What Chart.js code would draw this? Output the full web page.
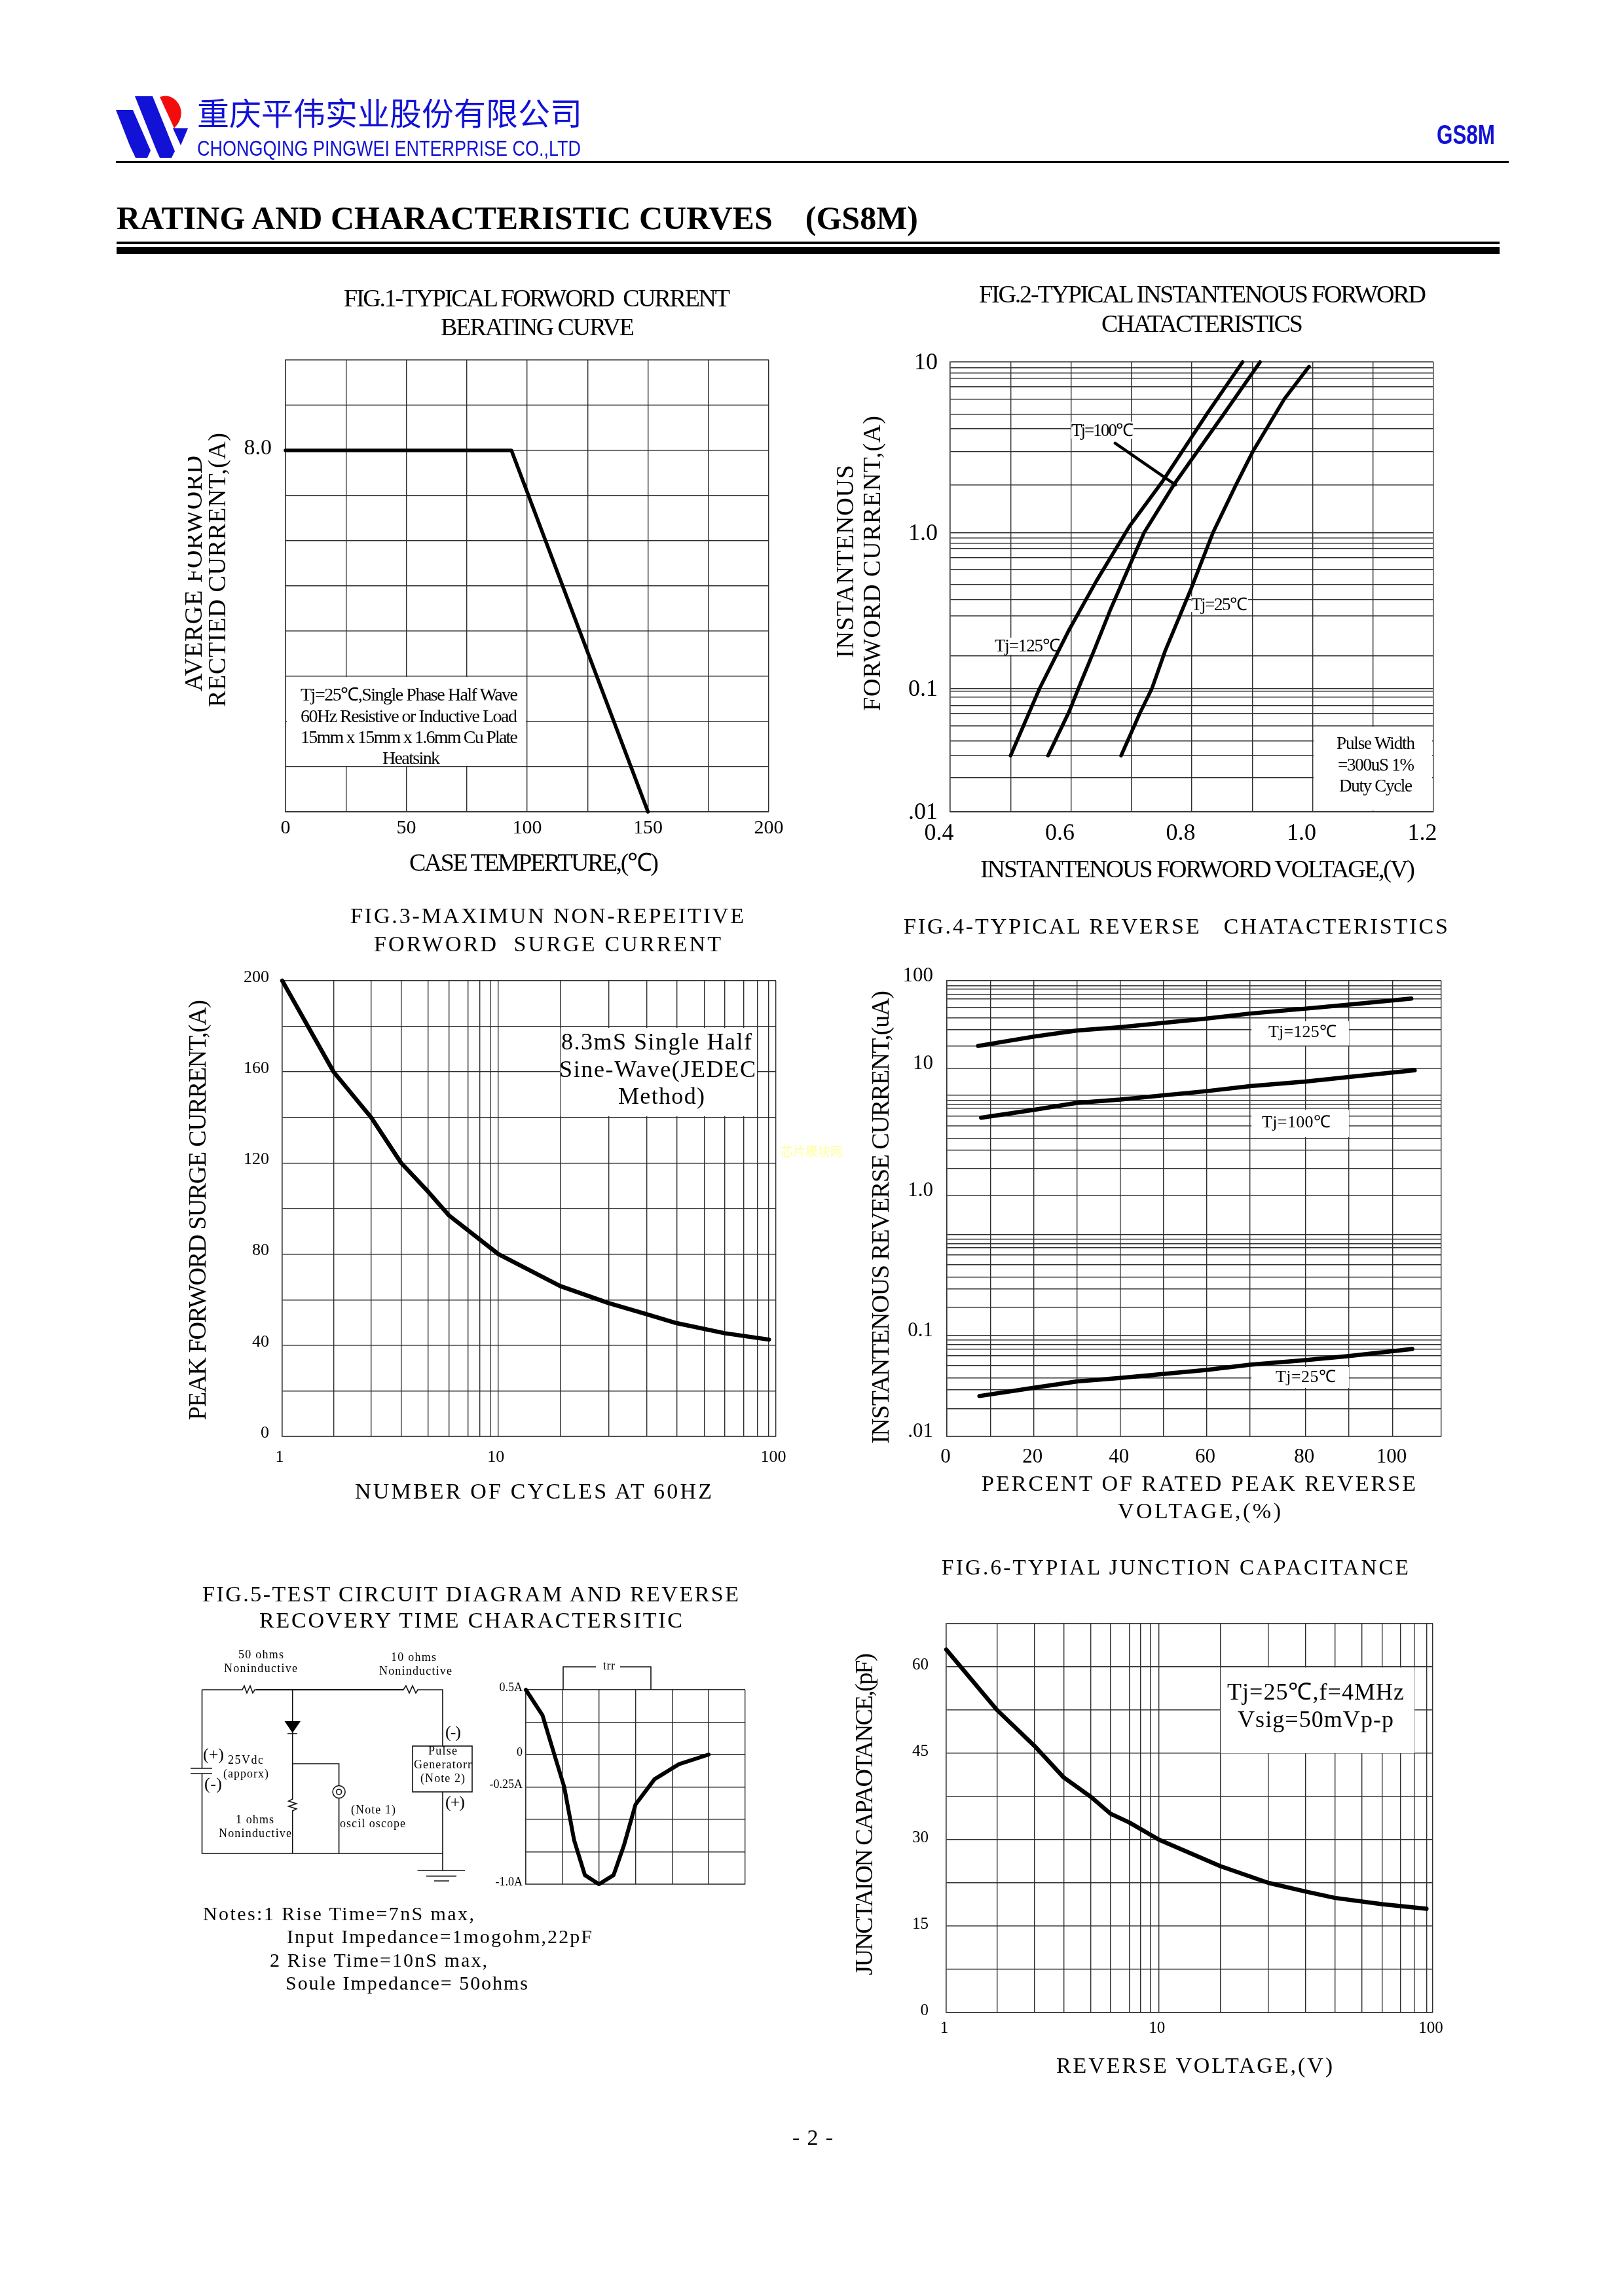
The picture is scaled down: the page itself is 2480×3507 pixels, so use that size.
<!DOCTYPE html>
<html>
<head>
<meta charset="utf-8">
<title>GS8M curves</title>
<script src="https://cdn.jsdelivr.net/npm/chart.js@4/dist/chart.umd.js"></script>
<style>
html, body { margin: 0; padding: 0; background: #fff; }
#page { position: relative; width: 2480px; height: 3507px; overflow: hidden; background: #fff; }
#page canvas { position: absolute; }
#page span { position: absolute; white-space: pre; line-height: 1; color: #000; }
#page .rule { position: absolute; background: #000; }
#art { position: absolute; left: 0; top: 0; }
</style>
</head>
<body>
<div id="page">
<svg id="art" width="2480" height="3507" fill="none" stroke="#111" stroke-width="1.6"></svg>
</div>
<script>
// fig 1
var fig1X = [0, 93.5, 150];
var fig1Y = [8, 8, 0];

// fig 2 (hand drawn log paper, so every grid line has its own read position)
var fig2YStops = [.01, .02, .03, .04, .05, .06, .07, .08, .09, .1, .2, .3, .4, .5, .6, .7, .8, .9, .95, 1, 2, 3, 4, 5, 6, 7, 8, 9, 9.5, 10];
var fig2YPos = [0, .0755, .125, .1578, .1912, .2193, .2369, .2545, .2684, .2742, .3474, .4362, .4721, .506, .5391, .5657, .5852, .5973, .6085, .6206, .7268, .8011, .8521, .8845, .9176, .9445, .9642, .9758, .9875, 1];
var fig2YTicks = [.01, .1, 1, 10];
var fig2YLabels = ['.01', '0.1', '1.0', '10'];
var fig2XTicks = [.4, .6, .8, 1, 1.2];
var fig2XLabels = ['0.4', '0.6', '0.8', '1.0', '1.2'];
var t25X = [.683, .714, .734, .756, .799, .835, .873, .901, .953, .994];
var t25Y = [.03, .06, .1, .21, .47, 1, 2, 3, 6, 9.6];
var t100X = [.562, .597, .617, .638, .666, .687, .721, .77, .853, .913];
var t100Y = [.03, .062, .116, .21, .34, .53, 1, 2, 5, 10];
var t125X = [.5, .548, .597, .642, .697, .752, .825, .884];
var t125Y = [.03, .1, .26, .52, 1.1, 2.1, 5, 10];
var leaderX = [.673, .773];
var leaderY = [3.33, 2];

// fig 3 and 6 share the same printed log paper
var cycleStops = [1, 2, 3, 4, 5, 6, 7, 8, 9, 10, 20, 30, 40, 50, 60, 70, 80, 90, 95, 100];
var fig3XPos = [0, .104, .18, .2409, .2959, .3381, .3762, .3998, .4218, .4379, .563, .661, .738, .7988, .8546, .896, .9341, .9628, .9856, 1];
var fig6XPos = [0, .1044, .1811, .2414, .2977, .3377, .376, .3997, .42, .4372, .5636, .6623, .7382, .7985, .8548, .8956, .9339, .9625, .987, 1];
var logTicks = [1, 10, 100];
var logLabels = ['1', '10', '100'];

var fig3X = [1, 2, 3, 4, 5, 6, 10, 20, 30, 40, 50, 70, 95];
var fig3Y = [200, 160, 140, 120, 107.3, 96.9, 80, 66, 58.5, 53.6, 49.7, 45.3, 42.5];
var fig3YTicks = [0, 40, 80, 120, 160, 200];

// fig 4
var fig4XStops = [0, 10, 20, 30, 40, 50, 60, 70, 80, 90, 100, 110];
var fig4XPos = [0, .0878, .1757, .2635, .3505, .4383, .5253, .6132, .7255, .8133, .902, 1];
var fig4XTicks = [0, 20, 40, 60, 80, 100];
var fig4YStops = [.01, .02, .03, .04, .05, .06, .07, .08, .09, .1, .15, .2, .3, .4, .5, .6, .7, .8, .9, 1, 1.5, 2, 3, 4, 5, 6, 7, 8, 9, 10, 20, 30, 40, 50, 60, 70, 80, 90, 100];
var fig4YPos = [0, .0611, .1018, .1282, .1549, .1771, .1919, .202, .2116, .2211, .2829, .3234, .35, .3763, .3989, .4137, .4233, .433, .4425, .5296, .5875, .6288, .6546, .6815, .7035, .7197, .7294, .738, .7485, .8074, .8569, .8922, .9186, .9417, .9597, .9708, .9813, .9895, 1];
var fig4YTicks = [.01, .1, 1, 10, 100];
var fig4YLabels = ['.01', '0.1', '1.0', '10', '100'];
var r125X = [7.2, 20, 30, 40, 60, 70, 80, 90, 103.8];
var r125Y = [20, 25.3, 29.5, 32, 39.3, 43.8, 48.6, 53, 61];
var r100X = [7.9, 20, 30, 40, 60, 70, 80, 90, 104.5];
var r100Y = [4.79, 5.8, 7.3, 8.1, 9.15, 9.33, 9.5, 9.67, 9.93];
var r25X = [7.5, 20, 30, 40, 60, 70, 80, 90, 104];
var r25Y = [.0263, .0316, .0369, .04, .0463, .051, .0554, .0596, .07];

// fig 5 trace
var traceX = [0, .455, .78, 1.05, 1.32, 1.615, 2, 2.4, 2.69, 3, 3.52, 4.19, 5];
var traceY = [.5, .304, 0, -.25, -.66, -.93, -1, -.93, -.694, -.385, -.19, -.074, 0];
var fig5YTicks = [.5, 0, -.25, -1];
var fig5YLabels = ['0.5A', '0', '-0.25A', '-1.0A'];

// fig 6
var fig6X = [1, 2, 3, 4, 5, 6, 7, 10, 20, 30, 40, 50, 70, 95];
var fig6Y = [63, 52.5, 46.3, 40.8, 37.4, 34.5, 33, 30, 25.4, 22.5, 21, 19.9, 18.8, 18];
var fig6YTicks = [0, 15, 30, 45, 60];

var page = document.getElementById('page');
var GRID = '#2e2e2e';
var SERIF = '"Liberation Serif"';

// scale whose grid lines sit where the paper has them, log or linear in between
class TableScale extends Chart.LinearScale {
    getPixelForValue(value) {
        var stops = this.options.stops, pos = this.options.pos, log = this.options.logBetween;
        var i = 0;
        while (i < stops.length - 2 && value > stops[i + 1]) i++;
        var f = log
            ? Math.log(value / stops[i]) / Math.log(stops[i + 1] / stops[i])
            : (value - stops[i]) / (stops[i + 1] - stops[i]);
        return this.getPixelForDecimal(pos[i] + f * (pos[i + 1] - pos[i]));
    }
}
TableScale.id = 'table';
Chart.register(TableScale);

function labeler(values, labels) {
    return function (value) {
        for (var i = 0; i < values.length; i++) {
            if (Math.abs(values[i] - value) < 1e-9) return labels ? labels[i] : String(values[i]);
        }
        return '';
    };
}

function axis(type, font, padding, callback, extra) {
    var o = {
        type: type,
        border: { display: true, color: GRID, width: 1.4 },
        grid: { color: GRID, lineWidth: 1.4, drawTicks: false },
        ticks: {
            autoSkip: false, maxRotation: 0, minRotation: 0, color: '#000',
            font: { family: SERIF, size: font }, padding: padding, callback: callback
        }
    };
    for (var k in extra) {
        if (k === 'labelOffset') o.ticks.labelOffset = extra[k];
        else if (k === 'stepSize') o.ticks.stepSize = extra[k];
        else o[k] = extra[k];
    }
    if (type === 'table') {
        o.afterBuildTicks = function (s) {
            s.ticks = s.options.stops.map(function (v) { return { value: v }; });
        };
    }
    return o;
}

function line(xs, ys, width) {
    return {
        data: xs.map(function (x, i) { return { x: x, y: ys[i] }; }),
        showLine: true, pointRadius: 0, borderColor: '#000', borderWidth: width,
        borderCapStyle: 'round', borderJoinStyle: 'round', tension: 0, clip: false
    };
}

function makeFig(box, xAxis, yAxis, datasets, blanks) {
    // margins wider than tick padding plus half a label, so autopadding never moves the plot
    var M = { left: 140, right: 70, top: 70, bottom: 70 };
    var canvas = document.createElement('canvas');
    canvas.width = box.right - box.left + M.left + M.right;
    canvas.height = box.bottom - box.top + M.top + M.bottom;
    canvas.style.left = (box.left - M.left) + 'px';
    canvas.style.top = (box.top - M.top) + 'px';
    page.insertBefore(canvas, document.getElementById('art'));
    xAxis.afterFit = function (s) { s.height = M.bottom; };
    yAxis.afterFit = function (s) { s.width = M.left; };
    return new Chart(canvas.getContext('2d'), {
        type: 'scatter',
        data: { datasets: datasets },
        options: {
            responsive: false, animation: false, devicePixelRatio: 1,
            layout: { padding: { top: M.top, right: M.right } },
            plugins: { legend: { display: false }, tooltip: { enabled: false }, title: { display: false } },
            scales: { x: xAxis, y: yAxis }
        },
        plugins: [{
            // note boxes blank the paper but stay under the curves
            id: 'blanks',
            beforeDatasetsDraw: function (chart) {
                var ctx = chart.ctx;
                ctx.save();
                ctx.fillStyle = '#fff';
                (blanks || []).forEach(function (b) {
                    ctx.fillRect(b[0] - box.left + M.left, b[1] - box.top + M.top, b[2] - b[0], b[3] - b[1]);
                });
                ctx.restore();
            }
        }]
    });
}

// fig 1
makeFig({ left: 436, right: 1174, top: 550, bottom: 1240 },
    axis('linear', 30, 7, labeler([0, 50, 100, 150, 200]), { min: 0, max: 200, stepSize: 25 }),
    axis('linear', 34, 21, labeler([8], ['8.0']), { min: 0, max: 10, stepSize: 1, labelOffset: -3 }),
    [line(fig1X, fig1Y, 5.5)],
    [[438, 1034, 803, 1170]]);

// fig 2
makeFig({ left: 1451, right: 2189, top: 553, bottom: 1240 },
    axis('linear', 36, 12, labeler(fig2XTicks, fig2XLabels), { min: .4, max: 1.2, stepSize: .1, labelOffset: -17 }),
    axis('table', 36, 19, labeler(fig2YTicks, fig2YLabels), { min: .01, max: 10, stops: fig2YStops, pos: fig2YPos, logBetween: true, labelOffset: 2 }),
    [line(t25X, t25Y, 5.5), line(t100X, t100Y, 5.5), line(t125X, t125Y, 5.5), line(leaderX, leaderY, 4.5)],
    [[2006, 1110, 2187, 1238], [1636, 644, 1731, 670], [1819, 911, 1906, 935], [1519, 974, 1620, 1000]]);

// fig 3
makeFig({ left: 431, right: 1185, top: 1498, bottom: 2194 },
    axis('table', 26, 17, labeler(logTicks, logLabels), { min: 1, max: 100, stops: cycleStops, pos: fig3XPos, logBetween: true, labelOffset: -4 }),
    axis('linear', 26, 20, labeler(fig3YTicks), { min: 0, max: 200, stepSize: 20, labelOffset: -5 }),
    [line(fig3X, fig3Y, 6.5)],
    [[856, 1570, 1156, 1705]]);

// fig 4
makeFig({ left: 1446, right: 2201, top: 1498, bottom: 2194 },
    axis('table', 31, 13, labeler(fig4XTicks), { min: 0, max: 110, stops: fig4XStops, pos: fig4XPos, logBetween: false, labelOffset: -2 }),
    axis('table', 31, 21, labeler(fig4YTicks, fig4YLabels), { min: .01, max: 100, stops: fig4YStops, pos: fig4YPos, logBetween: true, labelOffset: -7 }),
    [line(r125X, r125Y, 6.5), line(r100X, r100Y, 6.5), line(r25X, r25Y, 6.5)],
    [[1911, 1560, 2060, 1597], [1911, 1695, 2060, 1737], [1911, 2088, 2060, 2120]]);

// fig 5 trace
makeFig({ left: 803, right: 1138, top: 2581, bottom: 2878 },
    axis('linear', 18, 5, function () { return ''; }, { min: 0, max: 6, stepSize: 1 }),
    axis('linear', 18, 5, labeler(fig5YTicks, fig5YLabels), { min: -1, max: .5, stepSize: .25, labelOffset: -3 }),
    [line(traceX, traceY, 6)]);

// fig 6
makeFig({ left: 1445, right: 2188, top: 2480, bottom: 3074 },
    axis('table', 25, 9, labeler(logTicks, logLabels), { min: 1, max: 100, stops: cycleStops, pos: fig6XPos, logBetween: true, labelOffset: -3 }),
    axis('linear', 25, 27, labeler(fig6YTicks), { min: 0, max: 67.5, stepSize: 7.5, labelOffset: -3 }),
    [line(fig6X, fig6Y, 6.5)],
    [[1864, 2547, 2160, 2678]]);

// text fitted to its measured width
function put(text, left, right, cy, size, opt) {
    opt = opt || {};
    var family = opt.family || SERIF, weight = opt.weight || 'normal';
    var el = document.createElement('span');
    el.textContent = text;
    el.style.font = weight + ' ' + size + 'px/1 ' + family;
    el.style.color = opt.color || '#000';
    el.style.left = left + 'px';
    el.style.top = cy + 'px';
    page.appendChild(el);
    var natural = el.getBoundingClientRect().width;
    if (opt.squeeze) {
        el.style.transformOrigin = '0 0';
        el.style.transform = 'scaleX(' + ((right - left) / natural) + ') translateY(-50%)';
    } else {
        el.style.letterSpacing = ((right - left - natural) / (text.length - 1)) + 'px';
        el.style.transform = 'translateY(-50%)';
    }
}

function putUp(text, cx, top, bottom, size) {
    var el = document.createElement('span');
    el.textContent = text;
    el.style.font = size + 'px/1 ' + SERIF;
    el.style.left = cx + 'px';
    el.style.top = bottom + 'px';
    page.appendChild(el);
    var natural = el.getBoundingClientRect().width;
    el.style.letterSpacing = ((bottom - top - natural) / (text.length - 1)) + 'px';
    el.style.transformOrigin = '0 0';
    el.style.transform = 'rotate(-90deg) translateY(-50%)';
}

function rule(x0, x1, y0, y1, color) {
    var el = document.createElement('div');
    el.className = 'rule';
    el.style.cssText = 'left:' + x0 + 'px;width:' + (x1 - x0) + 'px;top:' + y0 + 'px;height:' + (y1 - y0) + 'px';
    if (color) el.style.background = color;
    page.appendChild(el);
}

// header
var BLUE = '#1212d6';
put('重庆平伟实业股份有限公司', 301, 889, 170, 48, { family: '"Noto Sans CJK SC"', color: BLUE, squeeze: true });
put('CHONGQING PINGWEI ENTERPRISE CO.,LTD', 301, 887, 226, 34, { family: '"Liberation Sans"', color: BLUE, squeeze: true });
put('GS8M', 2194, 2283, 206, 42, { family: '"Liberation Sans"', weight: 'bold', color: BLUE, squeeze: true });
put('RATING AND CHARACTERISTIC CURVES    (GS8M)', 178, 1402, 333, 50, { weight: 'bold' });
rule(177, 2304, 246, 249);
rule(178, 2290, 369, 373);
rule(178, 2290, 377, 388);

// fig 1 text
put('FIG.1-TYPICAL FORWORD  CURRENT', 525, 1115, 455, 38);
put('BERATING CURVE', 673, 969, 499, 38);
putUp('AVERGE FORWORD', 295, 696, 1056, 38);
rule(277, 287, 696, 893, '#fff');   // the print lost the tops of these letters
putUp('RECTIED CURRENT,(A)', 331, 661, 1080, 38);
put('CASE TEMPERTURE,(℃)', 625, 1006, 1317, 38);
put('Tj=25℃,Single Phase Half Wave', 459, 791, 1061, 28);
put('60Hz Resistive or Inductive Load', 459, 790, 1094, 28);
put('15mm x 15mm x 1.6mm Cu Plate', 459, 791, 1126, 28);
put('Heatsink', 584, 672, 1158, 28);

// fig 2 text
put('FIG.2-TYPICAL INSTANTENOUS FORWORD', 1495, 2178, 449, 38);
put('CHATACTERISTICS', 1682, 1990, 494, 38);
putUp('INSTANTENOUS', 1290, 710, 1005, 38);
putUp('FORWORD CURRENT,(A)', 1331, 635, 1086, 38);
put('INSTANTENOUS FORWORD VOLTAGE,(V)', 1497, 2161, 1327, 38);
put('Tj=100℃', 1636, 1731, 657, 27);
put('Tj=25℃', 1819, 1905, 923, 27);
put('Tj=125℃', 1519, 1619, 986, 27);
put('Pulse Width', 2041, 2161, 1135, 27);
put('=300uS 1%', 2043, 2160, 1168, 27);
put('Duty Cycle', 2045, 2157, 1200, 27);

// fig 3 text
put('FIG.3-MAXIMUN NON-REPEITIVE', 535, 1136, 1399, 34);
put('FORWORD  SURGE CURRENT', 571, 1101, 1442, 34);
putUp('PEAK FORWORD SURGE CURRENT,(A)', 301, 1527, 2169, 38);
put('NUMBER OF CYCLES AT 60HZ', 542, 1087, 2278, 34);
put('8.3mS Single Half', 857, 1148, 1591, 36);
put('Sine-Wave(JEDEC', 854, 1154, 1633, 36);
put('Method)', 944, 1076, 1674, 36);
put('芯片模块网', 1192, 1287, 1757, 19, { family: '"Noto Sans CJK SC"', color: '#ffff99' });

// fig 4 text
put('FIG.4-TYPICAL REVERSE   CHATACTERISTICS', 1380, 2211, 1415, 34);
putUp('INSTANTENOUS REVERSE CURRENT,(uA)', 1344, 1513, 2205, 38);
put('PERCENT OF RATED PEAK REVERSE', 1499, 2162, 2266, 34);
put('VOLTAGE,(%)', 1707, 1956, 2308, 34);
put('Tj=125℃', 1937, 2041, 1576, 26);
put('Tj=100℃', 1927, 2032, 1714, 26);
put('Tj=25℃', 1948, 2040, 2103, 26);

// fig 5 text
put('FIG.5-TEST CIRCUIT DIAGRAM AND REVERSE', 309, 1128, 2435, 34);
put('RECOVERY TIME CHARACTERSITIC', 396, 1042, 2475, 34);
put('50 ohms', 364, 433, 2527, 18);
put('Noninductive', 342, 454, 2548, 18);
put('10 ohms', 597, 666, 2531, 18);
put('Noninductive', 579, 690, 2552, 18);
put('25Vdc', 348, 402, 2688, 18);
put('(apporx)', 341, 410, 2709, 18);
put('(+)', 310, 342, 2680, 26);
put('(-)', 312, 339, 2725, 26);
put('(-)', 680, 704, 2646, 26);
put('(+)', 680, 710, 2753, 26);
put('Pulse', 654, 698, 2674, 18);
put('Generatorr', 632, 720, 2695, 18);
put('(Note 2)', 642, 710, 2716, 18);
put('(Note 1)', 536, 604, 2764, 18);
put('oscil oscope', 519, 619, 2785, 18);
put('1 ohms', 360, 418, 2779, 18);
put('Noninductive', 334, 445, 2800, 18);
put('trr', 921, 939, 2544, 18);
put('Notes:1 Rise Time=7nS max,', 310, 724, 2923, 30);
put('Input Impedance=1mogohm,22pF', 438, 904, 2958, 30);
put('2 Rise Time=10nS max,', 412, 744, 2994, 30);
put('Soule Impedance= 50ohms', 436, 806, 3029, 30);

// fig 6 text
put('FIG.6-TYPIAL JUNCTION CAPACITANCE', 1438, 2151, 2394, 33);
putUp('JUNCTAION CAPAOTANCE,(pF)', 1319, 2525, 3017, 38);
put('REVERSE VOLTAGE,(V)', 1613, 2035, 3155, 34);
put('Tj=25℃,f=4MHz', 1874, 2144, 2584, 36);
put('Vsig=50mVp-p', 1890, 2128, 2626, 36);

put('- 2 -', 1210, 1272, 3265, 34);

// logo and test circuit are plain drawing, not chart marks
document.getElementById('art').innerHTML = [
    '<path fill="#1212d6" stroke="none" d="M177,168 H203 L230,230 L225,241 H207 L198,222 Z"/>',
    '<path fill="#1212d6" stroke="none" d="M206,147 H233 L267,231 L262,241 H244 L239,230 Z"/>',
    '<path fill="#f20c0c" stroke="none" d="M244,148 Q262,142 273,159 Q283,178 266,196 Z"/>',
    '<path fill="#1212d6" stroke="none" d="M264,196 H287 L276,222 Z"/>',
    '<path d="M308.5,2581 H370 l3,-6 l4,11 l5,-11 l4,11 l3,-5 H616 l4,-6 l5,11 l5,-11 l5,11 l3,-5 H676 V2667"/>',
    '<path stroke-width="2.2" d="M391,2581 H616"/>',
    '<path d="M308.5,2581 V2701 M308.5,2709 V2831 H676"/>',
    '<path d="M291,2701 H324 M291,2709 H324"/>',
    '<path d="M446.7,2581 V2748 l-6,3 l12,4 l-12,4 l12,4 l-6,3 V2831"/>',
    '<path fill="#000" stroke="none" d="M434.5,2629 H459 L446.7,2647 Z"/>',
    '<path d="M439,2648 H454"/>',
    '<path d="M446.7,2694 H517.6 V2727 M517.6,2747 V2831"/>',
    '<circle cx="517.6" cy="2737" r="9.5"/><circle cx="517.6" cy="2737" r="4"/>',
    '<rect x="630" y="2667" width="91" height="70"/>',
    '<path d="M676,2737 V2857 M637.6,2857 H710 M651,2865.6 H697 M663,2873 H686"/>',
    '<path d="M860,2581 V2546 H910 M947,2546 H994 V2581"/>'
].join('');
</script>
</body>
</html>
